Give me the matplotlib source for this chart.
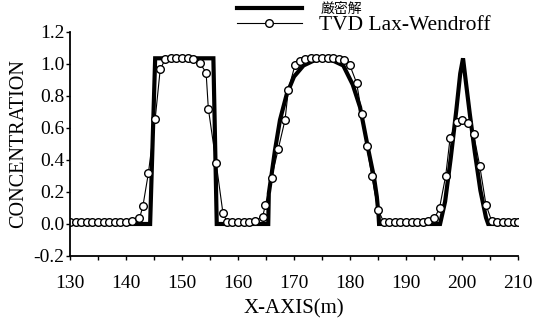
import numpy as np
import matplotlib
matplotlib.use('Agg')
import matplotlib.pyplot as plt
from matplotlib.ticker import MultipleLocator, FormatStrFormatter

plt.rcParams['font.family'] = ['Liberation Serif', 'Noto Sans CJK JP']
plt.rcParams['axes.unicode_minus'] = False

# exact solution (square wave, semi-ellipse, triangle)
exact_x = [130, 144.3, 145.2, 155.6, 156.2,
           165.4, 165.5, 166.0, 166.6, 167.5, 168.7, 170.0, 171.7, 173.5, 175.3,
           177.0, 178.8, 180.5, 181.8, 183.3, 184.3, 184.8, 185.1, 185.2,
           196.1, 197.0, 198.0, 199.0, 199.7, 200.2, 200.7, 201.4, 202.3, 203.3,
           204.3, 204.7, 210]
exact_y = [0.0, 0.0, 1.035, 1.035, 0.0,
           0.0, 0.19, 0.31, 0.46, 0.65, 0.81, 0.92, 0.99, 1.02, 1.03,
           1.02, 0.99, 0.87, 0.73, 0.46, 0.29, 0.17, 0.06, 0.0,
           0.0, 0.14, 0.41, 0.71, 0.94, 1.035, 0.89, 0.69, 0.45, 0.21,
           0.04, 0.0, 0.0]

# TVD Lax-Wendroff result
tvd_x = [130, 131, 132, 133, 134, 135, 136, 137, 138, 139, 140, 141,
         142.4, 143.0, 144.0, 145.2, 146.1,
         147, 148, 149, 150, 151, 152,
         153.2, 154.3, 154.7, 156.1, 157.3,
         158, 159, 160, 161, 162, 163,
         164.4, 164.9, 166.0, 167.2, 168.4, 169.0, 170.2,
         171, 172, 173, 174, 175, 176, 177, 178, 179,
         180.0, 181.2, 182.1, 183.0, 183.9, 185.0,
         186, 187, 188, 189, 190, 191, 192, 193, 194,
         195.1, 196.0, 197.1, 197.9, 199.1, 200.1, 201.1, 202.1, 203.2, 204.3,
         205.3, 206.3, 207.3, 208.3, 209.3, 210]
tvd_y = [0.015] * 11 + [0.02,
         0.035, 0.11, 0.32, 0.655, 0.965,
         1.03, 1.035, 1.035, 1.035, 1.035, 1.03,
         1.005, 0.945, 0.72, 0.38, 0.07,
         0.015, 0.015, 0.015, 0.015, 0.015, 0.02,
         0.045, 0.12, 0.29, 0.47, 0.65, 0.84, 0.995,
         1.02, 1.03, 1.035, 1.035, 1.035, 1.035, 1.035, 1.03, 1.025,
         0.99, 0.88, 0.69, 0.49, 0.30, 0.09,
         0.015, 0.015, 0.015, 0.015, 0.015, 0.015, 0.015, 0.015, 0.02,
         0.035, 0.10, 0.30, 0.54, 0.64, 0.65, 0.63, 0.56, 0.36, 0.12,
         0.02, 0.015, 0.015, 0.015, 0.015, 0.015]

fig = plt.figure(figsize=(5.35, 3.22), dpi=100)
ax = fig.add_axes([0.131, 0.205, 0.837, 0.696])

l_exact, = ax.plot(exact_x, exact_y, color='black', lw=3,
                   solid_joinstyle='miter')
l_tvd, = ax.plot(tvd_x, tvd_y, color='black', lw=0.8, marker='o', ms=5.5,
                 mfc='white', mec='black', mew=1)

ax.set_xlim(130, 210)
ax.set_ylim(-0.2, 1.2)
ax.xaxis.set_major_locator(MultipleLocator(10))
ax.xaxis.set_minor_locator(MultipleLocator(5))
ax.yaxis.set_major_locator(MultipleLocator(0.2))
ax.yaxis.set_major_formatter(FormatStrFormatter('%.1f'))

for s in ['top', 'right']:
    ax.spines[s].set_visible(False)
for s in ['left', 'bottom']:
    ax.spines[s].set_linewidth(1.3)

ax.tick_params(axis='x', which='both', direction='out', length=3, width=1,
               labelsize=14, pad=11)
ax.tick_params(axis='y', which='major', direction='out', length=3, width=1,
               labelsize=14, pad=1)

ax.set_xlabel('X-AXIS(m)', fontsize=15, labelpad=5)
ax.set_ylabel('CONCENTRATION', fontsize=14.5, labelpad=4)

# two one-row legends, so each row can sit where the original has it
leg1 = ax.legend([l_exact], ['厳密解'], loc='center left',
                 bbox_to_anchor=(0.443, 1 - 9 / 322),
                 bbox_transform=fig.transFigure, frameon=False, fontsize=10,
                 handlelength=4.7, handletextpad=1.3,
                 borderpad=0, borderaxespad=0)
ax.add_artist(leg1)
leg2 = ax.legend([l_tvd], ['TVD Lax-Wendroff'], loc='center left',
                 bbox_to_anchor=(0.443, 1 - 25 / 322),
                 bbox_transform=fig.transFigure, frameon=False, fontsize=15.5,
                 handlelength=3.0, handletextpad=0.8,
                 borderpad=0, borderaxespad=0)

fig.savefig('out.png', dpi=100)
